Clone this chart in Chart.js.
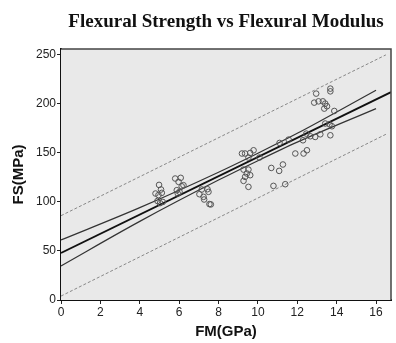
<!DOCTYPE html>
<html>
<head>
<meta charset="utf-8">
<script src="https://cdn.jsdelivr.net/npm/chart.js@4/dist/chart.umd.min.js"></script>
<style>
  body { margin: 0; background: #fff; }
  #wrap { width: 396px; height: 343px; }
</style>
</head>
<body>
<div id="wrap"><canvas id="chart" width="396" height="343"></canvas></div>
<script>
const chartTitle = 'Flexural Strength vs Flexural Modulus';
const xTitle = 'FM(GPa)';
const yTitle = 'FS(MPa)';
const xTicks = [0, 2, 4, 6, 8, 10, 12, 14, 16];
const yTicks = [0, 50, 100, 150, 200, 250];

const fm = [
  4.98, 4.80, 5.08, 5.12, 4.95, 4.90, 5.17, 5.03,
  5.80, 6.08, 5.97, 6.22, 5.88, 6.02, 6.13, 5.93,
  7.15, 7.44, 7.03, 7.24, 7.49, 7.27, 7.54, 7.61,
  9.19, 9.35, 9.61, 9.78, 9.52, 10.08, 9.27, 9.52, 9.61, 9.35, 9.27, 9.52, 9.44,
  10.68, 11.08, 11.27, 10.79, 11.39, 11.10, 11.56, 11.90, 12.32, 12.49,
  12.46, 12.66, 12.91, 13.17, 12.29,
  12.96, 12.86, 13.08, 13.30, 13.42, 13.51, 13.37, 13.68, 13.68, 13.88, 13.42, 13.64, 13.76, 13.68
];
const fs = [
  117.4, 108.6, 112.7, 109.3, 107.0, 101.0, 100.0, 98.8,
  123.9, 124.6, 120.5, 117.1, 112.0, 110.3, 116.0, 108.6,
  112.7, 113.0, 107.9, 105.2, 110.3, 102.5, 97.8, 97.5,
  149.4, 149.4, 150.0, 152.7, 145.3, 145.3, 133.0, 133.0, 127.3, 125.6, 121.5, 115.4, 129.0,
  134.7, 131.7, 138.2, 116.4, 118.1, 160.2, 163.6, 149.4, 149.4, 152.7,
  169.7, 167.0, 166.3, 169.0, 162.9,
  210.5, 201.3, 202.6, 202.6, 200.3, 197.6, 195.2, 215.6, 212.8, 192.8, 180.0, 179.2, 177.2, 168.0
];

// fit line and bands
const fitX = [0, 16.76];
const fitY = [48, 212];
const ciX = [0, 4, 8, 10, 12, 16];
const ciUpper = [61.2, 94.2, 130.3, 149.7, 170.0, 214.0];
const ciLower = [34.8, 80.2, 122.3, 142.1, 161.0, 195.2];
const piX = [0, 16.5];
const piUpper = [86, 250];
const piLower = [4, 169];

const pts = (xs, ys) => xs.map((x, i) => ({ x, y: ys[i] }));

const frame = {
  id: 'frame',
  beforeDatasetsDraw(chart) {
    const { ctx, chartArea: a } = chart;
    ctx.save();
    ctx.fillStyle = '#e9e9e9';
    ctx.fillRect(a.left, a.top, a.right - a.left, a.bottom - a.top);
    ctx.restore();
  },
  afterDraw(chart) {
    const { ctx, chartArea: a } = chart;
    ctx.save();
    ctx.strokeStyle = '#444';
    ctx.lineWidth = 1.5;
    ctx.beginPath();
    ctx.moveTo(a.left, a.top);
    ctx.lineTo(a.right, a.top);
    ctx.lineTo(a.right, a.bottom);
    ctx.stroke();
    ctx.fillStyle = '#111';
    ctx.font = 'bold 19px "Liberation Serif", "Times New Roman", serif';
    ctx.textAlign = 'center';
    ctx.textBaseline = 'middle';
    ctx.fillText(chartTitle, (a.left + a.right) / 2, 22);
    ctx.restore();
  }
};

const lineStyle = (color, width, dash) => ({
  showLine: true, pointRadius: 0, borderColor: color, borderWidth: width,
  borderDash: dash || [], fill: false, backgroundColor: color
});

new Chart(document.getElementById('chart'), {
  type: 'scatter',
  data: {
    datasets: [
      {
        label: 'FS',
        data: pts(fm, fs),
        pointRadius: 2.8,
        pointBorderWidth: 1,
        borderColor: '#555',
        backgroundColor: 'rgba(0,0,0,0)',
      },
      { label: 'fit', data: pts(fitX, fitY), ...lineStyle('#111', 1.8) },
      { label: 'ci upper', data: pts(ciX, ciUpper), ...lineStyle('#333', 1.2), cubicInterpolationMode: 'monotone' },
      { label: 'ci lower', data: pts(ciX, ciLower), ...lineStyle('#333', 1.2), cubicInterpolationMode: 'monotone' },
      { label: 'pi upper', data: pts(piX, piUpper), ...lineStyle('#888', 1, [3, 2]) },
      { label: 'pi lower', data: pts(piX, piLower), ...lineStyle('#888', 1, [3, 2]) },
    ],
  },
  options: {
    responsive: false,
    animation: false,
    layout: { padding: { top: 49, right: 5, left: 0, bottom: 0 } },
    plugins: { legend: { display: false }, tooltip: { enabled: false }, title: { display: false } },
    scales: {
      x: {
        type: 'linear',
        min: 0,
        max: 16.76,
        afterBuildTicks: (s) => { s.ticks = xTicks.map((v) => ({ value: v })); },
        afterFit: (s) => { s.height = 43; },
        grid: { drawOnChartArea: false, drawTicks: true, tickLength: 4, color: '#222' },
        border: { display: true, color: '#111', width: 2 },
        ticks: { color: '#222', padding: 1, font: { family: 'Liberation Sans', size: 12 }, maxRotation: 0 },
        title: { display: true, text: xTitle, color: '#111', padding: { top: 0, bottom: 2 }, font: { family: 'Liberation Sans', size: 15, weight: 'bold' } },
      },
      y: {
        min: 0,
        max: 256,
        afterBuildTicks: (s) => { s.ticks = yTicks.map((v) => ({ value: v })); },
        afterFit: (s) => { s.width = 61; },
        grid: { drawOnChartArea: false, drawTicks: true, tickLength: 4, color: '#222' },
        border: { display: true, color: '#111', width: 2 },
        ticks: { color: '#222', padding: 1, font: { family: 'Liberation Sans', size: 12 } },
        title: { display: true, text: yTitle, color: '#111', padding: { top: 10, bottom: 0 }, font: { family: 'Liberation Sans', size: 15, weight: 'bold' } },
      },
    },
  },
  plugins: [frame],
});
</script>
</body>
</html>
